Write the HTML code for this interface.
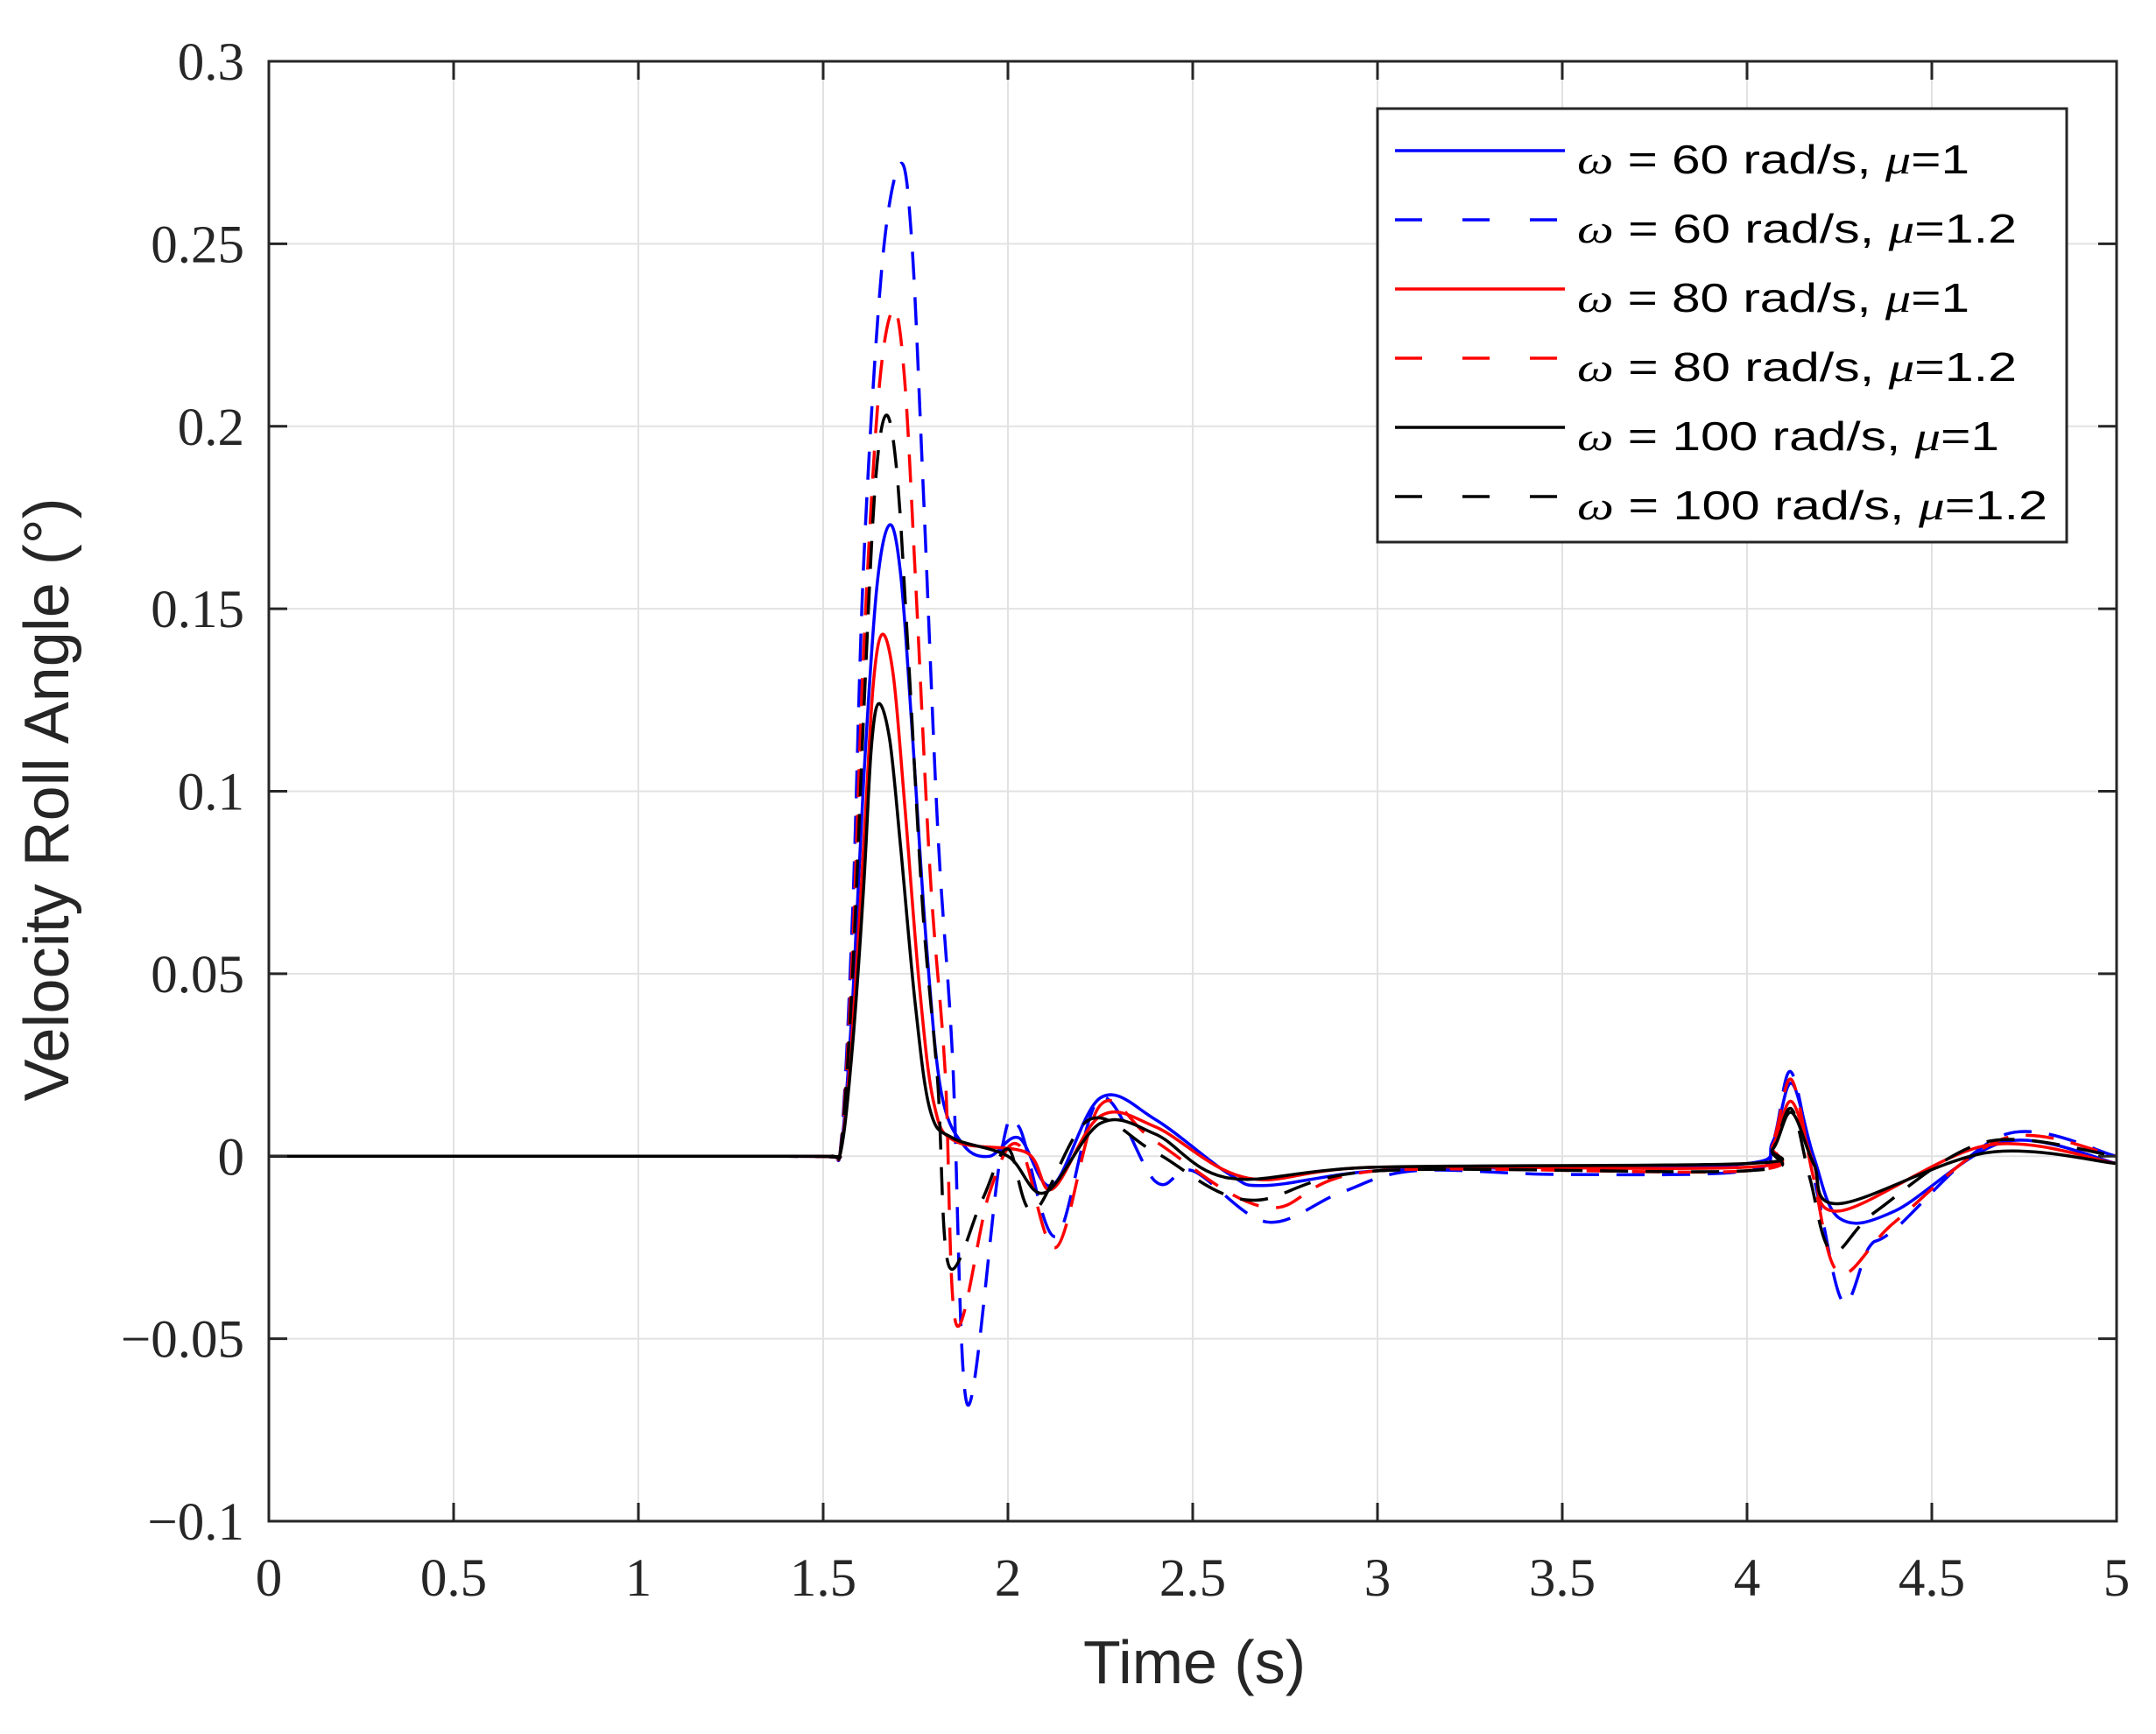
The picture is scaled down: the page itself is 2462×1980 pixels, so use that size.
<!DOCTYPE html>
<html><head><meta charset="utf-8"><style>html,body{margin:0;padding:0;background:#fff}</style></head>
<body>
<svg id="s" width="2462" height="1980" xmlns="http://www.w3.org/2000/svg" style="display:block">
<rect width="2462" height="1980" fill="#fff"/>
<g id="grid" stroke="#e2e2e2" stroke-width="2"></g>
<g id="curves" fill="none" stroke-width="3.5"></g>
<rect x="307" y="70" width="2110" height="1667" fill="none" stroke="#262626" stroke-width="3"/>
<g id="ticks" stroke="#262626" stroke-width="3"></g>
<g id="labels" font-family="Liberation Serif, serif" font-size="61" fill="#262626"></g>
<text x="1364" y="1922" font-family="Liberation Sans, sans-serif" font-size="70" fill="#262626" text-anchor="middle">Time (s)</text>
<text transform="translate(78,913) rotate(-90)" font-family="Liberation Sans, sans-serif" font-size="72" fill="#262626" text-anchor="middle">Velocity Roll Angle (°)</text>
<g>
<rect x="1573" y="124" width="787" height="495" fill="#fff" stroke="#262626" stroke-width="3"/>
<g id="leg" font-family="Liberation Sans, sans-serif" font-size="46" fill="#000"></g>
</g>
</svg>
<script>
const NS="http://www.w3.org/2000/svg";
const X=t=>307+t*422, Y=v=>1737-(v+0.1)*4167.5;
function el(p,tag,a,txt){const e=document.createElementNS(NS,tag);for(const k in a)e.setAttribute(k,a[k]);if(txt!==undefined)e.textContent=txt;document.getElementById(p).appendChild(e);return e;}
for(let i=0;i<=10;i++){const x=X(i*0.5);el('grid','line',{x1:x,y1:70,x2:x,y2:1737});
 el('ticks','line',{x1:x,y1:1737,x2:x,y2:1716});el('ticks','line',{x1:x,y1:70,x2:x,y2:91});
 el('labels','text',{x:x,y:1822,'text-anchor':'middle'},String(i*0.5));}
const yl=['\u22120.1','\u22120.05','0','0.05','0.1','0.15','0.2','0.25','0.3'];
for(let i=0;i<=8;i++){const v=-0.1+i*0.05;const y=Y(v);el('grid','line',{x1:307,y1:y,x2:2417,y2:y});
 el('ticks','line',{x1:307,y1:y,x2:328,y2:y});el('ticks','line',{x1:2417,y1:y,x2:2396,y2:y});
 el('labels','text',{x:279,y:y+21,'text-anchor':'end'},yl[i]);}
function pulse(pk,tp,mn,tm){return [[0,0],[1.4,0],[1.52,0],[1.55,0.02*pk],[1.58,0.25*pk],[1.61,0.6*pk],[(1.61+tp)/2,0.9*pk],[tp,pk],[tp+0.03,0.92*pk],[tp+0.06,0.68*pk],[tp+0.1,0.33*pk],[tp+0.14,0.1*pk],[tm,mn]];}
function path(pts){const P=pts.map(p=>[X(p[0]),Y(p[1])]);let d='M'+P[0][0]+','+P[0][1];
 for(let i=0;i<P.length-1;i++){const p0=P[Math.max(0,i-1)],p1=P[i],p2=P[i+1],p3=P[Math.min(P.length-1,i+2)];
 const c1=[p1[0]+(p2[0]-p0[0])/6,p1[1]+(p2[1]-p0[1])/6],c2=[p2[0]-(p3[0]-p1[0])/6,p2[1]-(p3[1]-p1[1])/6];
 d+=`C${c1[0].toFixed(1)},${c1[1].toFixed(1)} ${c2[0].toFixed(1)},${c2[1].toFixed(1)} ${p2[0].toFixed(1)},${p2[1].toFixed(1)}`;}return d;}
const S=[
 ['#0000ff','',pulse(0.173,1.68,0.003,1.88).concat([[1.95,0.0],[2.03,0.005],[2.12,-0.008],[2.25,0.016],[2.4,0.01],[2.6,-0.005],[2.7,-0.008],[3.0,-0.004],[3.5,-0.003],[4.0,-0.002],[4.07,0.004],[4.12,0.02],[4.18,0.0],[4.25,-0.017],[4.4,-0.015],[4.7,0.004],[5,-0.002]])],
 ['#0000ff','32 20',pulse(0.272,1.71,-0.068,1.89).concat([[1.98,0.0],[2.03,0.008],[2.13,-0.022],[2.25,0.016],[2.4,-0.007],[2.5,-0.004],[2.7,-0.018],[2.9,-0.01],[3.1,-0.004],[3.5,-0.005],[4.0,-0.004],[4.07,0.004],[4.12,0.023],[4.19,-0.01],[4.26,-0.04],[4.33,-0.025],[4.4,-0.02],[4.7,0.006],[5,0.0]])],
 ['#ff0000','',pulse(0.143,1.66,0.004,1.86).concat([[2.05,0.001],[2.12,-0.009],[2.25,0.011],[2.4,0.008],[2.65,-0.006],[3.0,-0.003],[4.0,-0.003],[4.07,0.003],[4.12,0.015],[4.18,-0.002],[4.25,-0.015],[4.65,0.003],[5,-0.002]])],
 ['#ff0000','32 20',pulse(0.232,1.69,-0.046,1.86).concat([[1.95,-0.01],[2.03,0.003],[2.13,-0.025],[2.25,0.014],[2.4,0.004],[2.7,-0.014],[3.0,-0.004],[4.0,-0.004],[4.07,0.004],[4.12,0.021],[4.18,-0.006],[4.25,-0.032],[4.4,-0.018],[4.7,0.005],[5,0.0]])],
 ['#000000','',pulse(0.124,1.65,0.005,1.85).concat([[2.0,0.0],[2.1,-0.01],[2.25,0.009],[2.4,0.006],[2.6,-0.006],[3.0,-0.003],[4.0,-0.002],[4.07,0.002],[4.12,0.012],[4.18,-0.002],[4.25,-0.013],[4.65,0.001],[5,-0.002]])],
 ['#000000','32 20',pulse(0.203,1.67,-0.03,1.84).concat([[1.93,-0.012],[2.0,0.002],[2.07,-0.015],[2.22,0.01],[2.4,0.001],[2.65,-0.012],[3.0,-0.004],[4.0,-0.004],[4.07,0.002],[4.12,0.013],[4.17,-0.006],[4.23,-0.026],[4.35,-0.015],[4.65,0.004],[5,0.0]])]
];
S.forEach(s=>{const a={d:path(s[2]),stroke:s[0]};if(s[1])a['stroke-dasharray']=s[1];el('curves','path',a);});
const L=[['#0000ff','','60','1',448],['#0000ff','31 46','60','1.2',502],['#ff0000','','80','1',448],['#ff0000','31 46','80','1.2',502],['#000000','','100','1',482],['#000000','31 46','100','1.2',537]];
L.forEach((l,i)=>{const y=172+i*79;const a={x1:1593,y1:y,x2:1787,y2:y,stroke:l[0],'stroke-width':3.5};if(l[1])a['stroke-dasharray']=l[1];el('leg','line',a);
 const t=el('leg','text',{x:1801,y:y+26,textLength:l[4],lengthAdjust:'spacingAndGlyphs'});
 t.innerHTML=`<tspan font-style="italic" font-family="Liberation Serif, serif">ω</tspan> = ${l[2]} rad/s, <tspan font-style="italic" font-family="Liberation Serif, serif">μ</tspan>=${l[3]}`;});
</script>
</body></html>
